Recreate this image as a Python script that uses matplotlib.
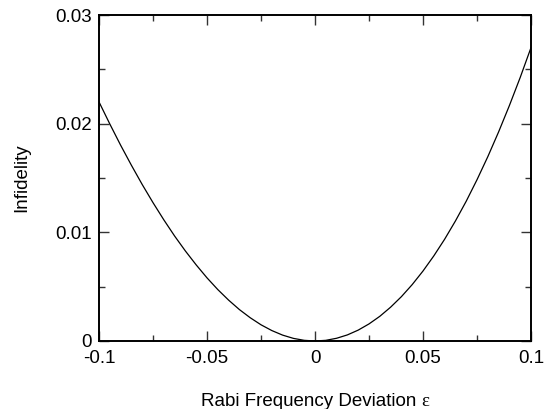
import matplotlib
matplotlib.use("Agg")
import matplotlib.pyplot as plt
from matplotlib.ticker import MultipleLocator, FixedFormatter, FixedLocator

plt.rcParams["font.family"] = ["Liberation Sans", "DejaVu Sans"]

# values
deviation = [
    -0.100, -0.095, -0.090, -0.085, -0.080, -0.075, -0.070, -0.065, -0.060, -0.055,
    -0.050, -0.045, -0.040, -0.035, -0.030, -0.025, -0.020, -0.015, -0.010, -0.005,
    0.000, 0.005, 0.010, 0.015, 0.020, 0.025, 0.030, 0.035, 0.040, 0.045,
    0.050, 0.055, 0.060, 0.065, 0.070, 0.075, 0.080, 0.085, 0.090, 0.095, 0.100,
]
infidelity = [
    0.02200, 0.01997, 0.01802, 0.01617, 0.01440, 0.01273, 0.01115, 0.00966, 0.00828, 0.00700,
    0.00581, 0.00473, 0.00376, 0.00289, 0.00214, 0.00149, 0.00096, 0.00054, 0.00024, 0.00006,
    0.00000, 0.00006, 0.00025, 0.00056, 0.00100, 0.00157, 0.00227, 0.00311, 0.00408, 0.00519,
    0.00644, 0.00783, 0.00936, 0.01104, 0.01286, 0.01484, 0.01696, 0.01924, 0.02167, 0.02425, 0.02700,
]

xticks = [-0.1, -0.05, 0, 0.05, 0.1]
xticklabels = ["-0.1", "-0.05", "0", "0.05", "0.1"]
yticks = [0, 0.01, 0.02, 0.03]
yticklabels = ["0", "0.01", "0.02", "0.03"]

fig = plt.figure(figsize=(5.51, 4.09), dpi=100)
ax = fig.add_axes([0.1797, 0.1663, 0.7840, 0.7970])

ax.plot(deviation, infidelity, color="black", lw=0.9)

ax.set_xlim(-0.1, 0.1)
ax.set_ylim(0, 0.03)
ax.xaxis.set_major_locator(FixedLocator(xticks))
ax.xaxis.set_major_formatter(FixedFormatter(xticklabels))
ax.yaxis.set_major_locator(FixedLocator(yticks))
ax.yaxis.set_major_formatter(FixedFormatter(yticklabels))
ax.xaxis.set_minor_locator(MultipleLocator(0.025))
ax.yaxis.set_minor_locator(MultipleLocator(0.005))

ax.tick_params(which="both", direction="in", top=True, right=True,
               labelsize=13.5, color="#333333", pad=5)
ax.tick_params(axis="x", which="both", pad=6.5)
ax.tick_params(which="major", length=7.2, width=1.0)
ax.tick_params(which="minor", length=4.3, width=1.0)
for s in ax.spines.values():
    s.set_linewidth(1.4)

# epsilon is set in a serif face, as in the original
ax.set_xlabel("Rabi Frequency Deviation", fontsize=13.5, labelpad=19)
ax.xaxis.label.set_x(0.486)
ax.annotate("\u03b5", xy=(1, 0), xycoords=ax.xaxis.label, xytext=(3, 0),
            textcoords="offset points", ha="left", va="bottom",
            fontsize=13.5, family="Liberation Serif")
ax.set_ylabel("Infidelity", fontsize=13.5, labelpad=18)

fig.savefig("out.png", dpi=100)
